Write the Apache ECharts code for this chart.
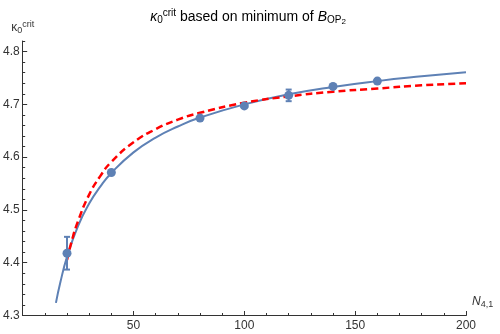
<!DOCTYPE html>
<html><head><meta charset="utf-8">
<script src="https://cdn.jsdelivr.net/npm/echarts@6/dist/echarts.min.js"></script>
<style>html,body{margin:0;padding:0;background:#fff}#c{width:500px;height:334px}</style>
</head><body><div id="c"></div>
<script>
// data points with error bars
const ptN = [20, 40, 80, 100, 120, 140, 160];
const ptK = [4.418, 4.571, 4.674, 4.697, 4.717, 4.734, 4.744];
const ptErr = [0.031, 0, 0, 0, 0.011, 0, 0];
// blue fit curve
const blueN = [15, 17, 20, 25, 30, 35, 40, 50, 60, 70, 80, 100, 120, 140, 160, 180, 200];
const blueK = [4.324, 4.363, 4.411, 4.470, 4.512, 4.544, 4.570, 4.609, 4.637, 4.658, 4.675, 4.700, 4.719, 4.733, 4.744, 4.753, 4.761];
// red dashed curve
const redN = [20, 22, 25, 30, 35, 40, 50, 60, 70, 80, 100, 120, 140, 160, 180, 200];
const redK = [4.405, 4.439, 4.479, 4.529, 4.564, 4.591, 4.628, 4.653, 4.671, 4.684, 4.703, 4.715, 4.724, 4.730, 4.736, 4.740];
// tick labels
const xTicks = [50, 100, 150, 200];
const yTicks = [4.3, 4.4, 4.5, 4.6, 4.7, 4.8];

const FONT = '"Liberation Sans", Arial, sans-serif';
const BLUE = '#5E81B5';
const AX = '#333';
const chart = echarts.init(document.getElementById('c'), null, {renderer: 'canvas'});

const zip = (a, b) => a.map((v, i) => [v, b[i]]);
const tBase = {fontFamily: FONT, color: '#000', fontWeight: 'normal', lineHeight: 20};

chart.setOption({
  animation: false,
  backgroundColor: '#fff',
  title: {
    text: '{i|κ}{sub|0}{sup|crit}{n| based on minimum of }{i|B}{sub|OP}{sub2|2}',
    left: 243, top: 2, textAlign: 'center',
    textStyle: {
      fontWeight: 'normal',
      rich: {
        n: Object.assign({}, tBase, {fontSize: 14}),
        i: Object.assign({}, tBase, {fontSize: 14, fontStyle: 'italic'}),
        sub: Object.assign({}, tBase, {fontSize: 10, padding: [6, 0, 0, 0]}),
        sub2: Object.assign({}, tBase, {fontSize: 8, padding: [10, 0, 0, 0]}),
        sup: Object.assign({}, tBase, {fontSize: 10, padding: [0, 0, 8, 0]})
      }
    }
  },
  grid: {left: 22, right: 34, top: 41, bottom: 18.5, containLabel: false},
  xAxis: [{
    type: 'value', min: 0, max: 200, interval: 10,
    axisLine: {lineStyle: {color: AX, width: 1}},
    axisTick: {inside: true, length: 2.5, lineStyle: {color: AX}},
    axisLabel: {show: false},
    splitLine: {show: false},
    name: '{i|N}{sub|4,1}', nameLocation: 'end', nameGap: 6,
    nameTextStyle: {
      verticalAlign: 'bottom', padding: [0, 0, 6, 0],
      rich: {
        i: {fontFamily: FONT, fontSize: 12, color: '#333', fontStyle: 'italic'},
        sub: {fontFamily: FONT, fontSize: 9, color: '#333', padding: [6, 0, 0, 0]}
      }
    }
  }, {
    type: 'value', min: 0, max: 200, position: 'bottom',
    axisLine: {show: false},
    axisTick: {inside: true, length: 4.5, customValues: xTicks, lineStyle: {color: AX}},
    axisLabel: {customValues: xTicks, fontFamily: FONT, fontSize: 12, color: '#333', margin: 4},
    splitLine: {show: false}
  }],
  yAxis: [{
    type: 'value', min: 4.3, max: 4.82, interval: 0.02,
    axisLine: {show: true, lineStyle: {color: AX, width: 1}},
    axisTick: {show: true, inside: true, length: 2.5, lineStyle: {color: AX}},
    axisLabel: {show: false},
    splitLine: {show: false},
    name: '{i|κ}{sub|0}{sup|crit}', nameLocation: 'end', nameGap: 5,
    nameTextStyle: {
      align: 'center',
      rich: {
        i: {fontFamily: FONT, fontSize: 12, color: '#333'},
        sub: {fontFamily: FONT, fontSize: 9, color: '#333', padding: [5, 0, 0, 0]},
        sup: {fontFamily: FONT, fontSize: 9, color: '#333', padding: [0, 0, 7, 0]}
      }
    }
  }, {
    type: 'value', min: 4.3, max: 4.82, position: 'left',
    axisLine: {show: false},
    axisTick: {show: true, inside: true, length: 4.5, customValues: yTicks, lineStyle: {color: AX}},
    axisLabel: {customValues: yTicks, fontFamily: FONT, fontSize: 12, color: '#333', margin: 3,
      formatter: v => v.toFixed(1)},
    splitLine: {show: false}
  }],
  series: [{
    type: 'line', data: zip(blueN, blueK), smooth: true, symbol: 'none',
    lineStyle: {color: BLUE, width: 2}, z: 2
  }, {
    type: 'line', data: zip(redN, redK), smooth: true, symbol: 'none',
    lineStyle: {color: '#FF0000', width: 2.5, type: [7, 4]}, z: 3
  }, {
    type: 'scatter', data: zip(ptN, ptK), symbol: 'circle', symbolSize: 9,
    itemStyle: {color: BLUE, opacity: 1}, z: 4
  }, {
    type: 'custom', z: 4,
    data: ptN.map((n, i) => [n, ptK[i] - ptErr[i], ptK[i] + ptErr[i], ptErr[i]]),
    renderItem: (params, api) => {
      if (api.value(3) <= 0) return null;
      const lo = api.coord([api.value(0), api.value(1)]);
      const hi = api.coord([api.value(0), api.value(2)]);
      const st = {stroke: BLUE, lineWidth: 2};
      return {type: 'group', children: [
        {type: 'line', shape: {x1: lo[0], y1: lo[1], x2: hi[0], y2: hi[1]}, style: st},
        {type: 'line', shape: {x1: lo[0] - 3, y1: lo[1], x2: lo[0] + 3, y2: lo[1]}, style: st},
        {type: 'line', shape: {x1: hi[0] - 3, y1: hi[1], x2: hi[0] + 3, y2: hi[1]}, style: st}
      ]};
    }
  }]
});
</script></body></html>
